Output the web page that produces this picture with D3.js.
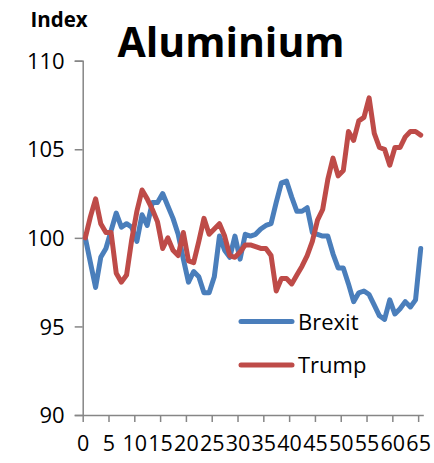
<!DOCTYPE html>
<html>
<head>
<meta charset="utf-8">
<script src="https://cdn.jsdelivr.net/npm/d3@7"></script>
<style>
  html, body { margin: 0; padding: 0; background: #fff; }
  svg { display: block; }
  text { font-family: "Open Sans", Lato, sans-serif; fill: #000; }
</style>
</head>
<body>
<svg id="chart" width="434" height="463"></svg>
<script>
// Daily index values after each event (start = 100)
const days = d3.range(66);
const brexit = [
  100.0, 98.6, 97.2, 98.9, 99.4, 100.4, 101.4, 100.6, 100.8, 100.6,
  99.8, 101.3, 100.7, 102.0, 102.0, 102.5, 101.8, 101.1, 100.2, 98.8,
  97.5, 98.1, 97.8, 96.9, 96.9, 97.8, 100.1, 99.3, 98.9, 100.1,
  98.8, 100.2, 100.1, 100.2, 100.5, 100.7, 100.8, 102.0, 103.1, 103.2,
  102.3, 101.5, 101.5, 101.7, 100.3, 100.2, 100.1, 100.1, 99.1, 98.3,
  98.3, 97.4, 96.4, 96.9, 97.0, 96.8, 96.2, 95.6, 95.4, 96.5,
  95.7, 96.0, 96.4, 96.1, 96.5, 99.4
];
const trump = [
  100.0, 101.2, 102.2, 100.8, 100.3, 100.3, 98.0, 97.5, 97.9, 99.9,
  101.5, 102.7, 102.2, 101.6, 100.9, 99.4, 100.0, 99.3, 99.0, 100.3,
  98.7, 98.6, 99.8, 101.1, 100.2, 100.5, 100.8, 100.1, 99.0, 98.9,
  99.2, 99.6, 99.6, 99.5, 99.4, 99.4, 99.0, 97.0, 97.7, 97.7,
  97.4, 97.9, 98.4, 99.0, 99.8, 101.0, 101.6, 103.3, 104.5, 103.5,
  103.8, 106.0, 105.5, 106.6, 106.8, 107.9, 105.9, 105.1, 105.0, 104.1,
  105.1, 105.1, 105.7, 106.0, 106.0, 105.8
];
const xTicks = d3.range(0, 66, 5);
const yTicks = [90, 95, 100, 105, 110];
const seriesNames = ["Brexit", "Trump"];
const seriesColors = ["#4a7ebb", "#be4b48"];

const svg = d3.select("#chart");
const axisColor = "#868686";

// Category boundaries run 0..66; each point sits in the middle of its slot
const x = d3.scaleLinear().domain([0, 66]).range([82.7, 423.3]);
const y = d3.scaleLinear().domain([90, 110]).range([415, 60.7]);

// Title and unit label
svg.append("text").attr("x", 231).attr("y", 56.5)
  .attr("text-anchor", "middle")
  .style("font-size", "41px").style("font-weight", "bold")
  .text("Aluminium");
svg.append("text").attr("x", 30.5).attr("y", 26.5)
  .style("font-size", "20.5px").style("font-weight", "bold")
  .text("Index");

// Y axis
const yAxis = svg.append("g").attr("transform", `translate(${x(0)},0)`)
  .call(d3.axisLeft(y).tickValues(yTicks).tickSize(8).tickPadding(10).tickFormat(d3.format("d")));
yAxis.select(".domain").attr("stroke", axisColor).attr("stroke-width", 1.5);
yAxis.selectAll(".tick line").attr("stroke", axisColor).attr("stroke-width", 1.5);
yAxis.selectAll(".tick text").style("font-size", "22px").attr("dy", "0.35em");

// X axis
const xAxis = svg.append("g").attr("transform", `translate(0,${y(90)})`)
  .call(d3.axisBottom(x).tickValues(xTicks).tickSize(7).tickSizeOuter(0).tickPadding(14).tickFormat(d3.format("d")));
xAxis.select(".domain").attr("stroke", axisColor).attr("stroke-width", 1.5);
xAxis.selectAll(".tick line").attr("stroke", axisColor).attr("stroke-width", 1.5);
xAxis.selectAll(".tick text").style("font-size", "21.5px").attr("dy", "0.71em");

// Lines
const line = d3.line().x((d, i) => x(days[i] + 0.5)).y(d => y(d));
[brexit, trump].forEach((vals, k) => {
  svg.append("path").datum(vals)
    .attr("fill", "none")
    .attr("stroke", seriesColors[k])
    .attr("stroke-width", 5)
    .attr("stroke-linejoin", "round")
    .attr("stroke-linecap", "round")
    .attr("d", line);
});

// Legend
const legend = svg.append("g");
seriesNames.forEach((name, k) => {
  const ly = [321.5, 365][k];
  legend.append("line").attr("x1", 241).attr("x2", 292).attr("y1", ly).attr("y2", ly)
    .attr("stroke", seriesColors[k]).attr("stroke-width", 5).attr("stroke-linecap", "round");
  legend.append("text").attr("x", 298).attr("y", ly + 8)
    .style("font-size", "22px").text(name);
});
</script>
</body>
</html>
